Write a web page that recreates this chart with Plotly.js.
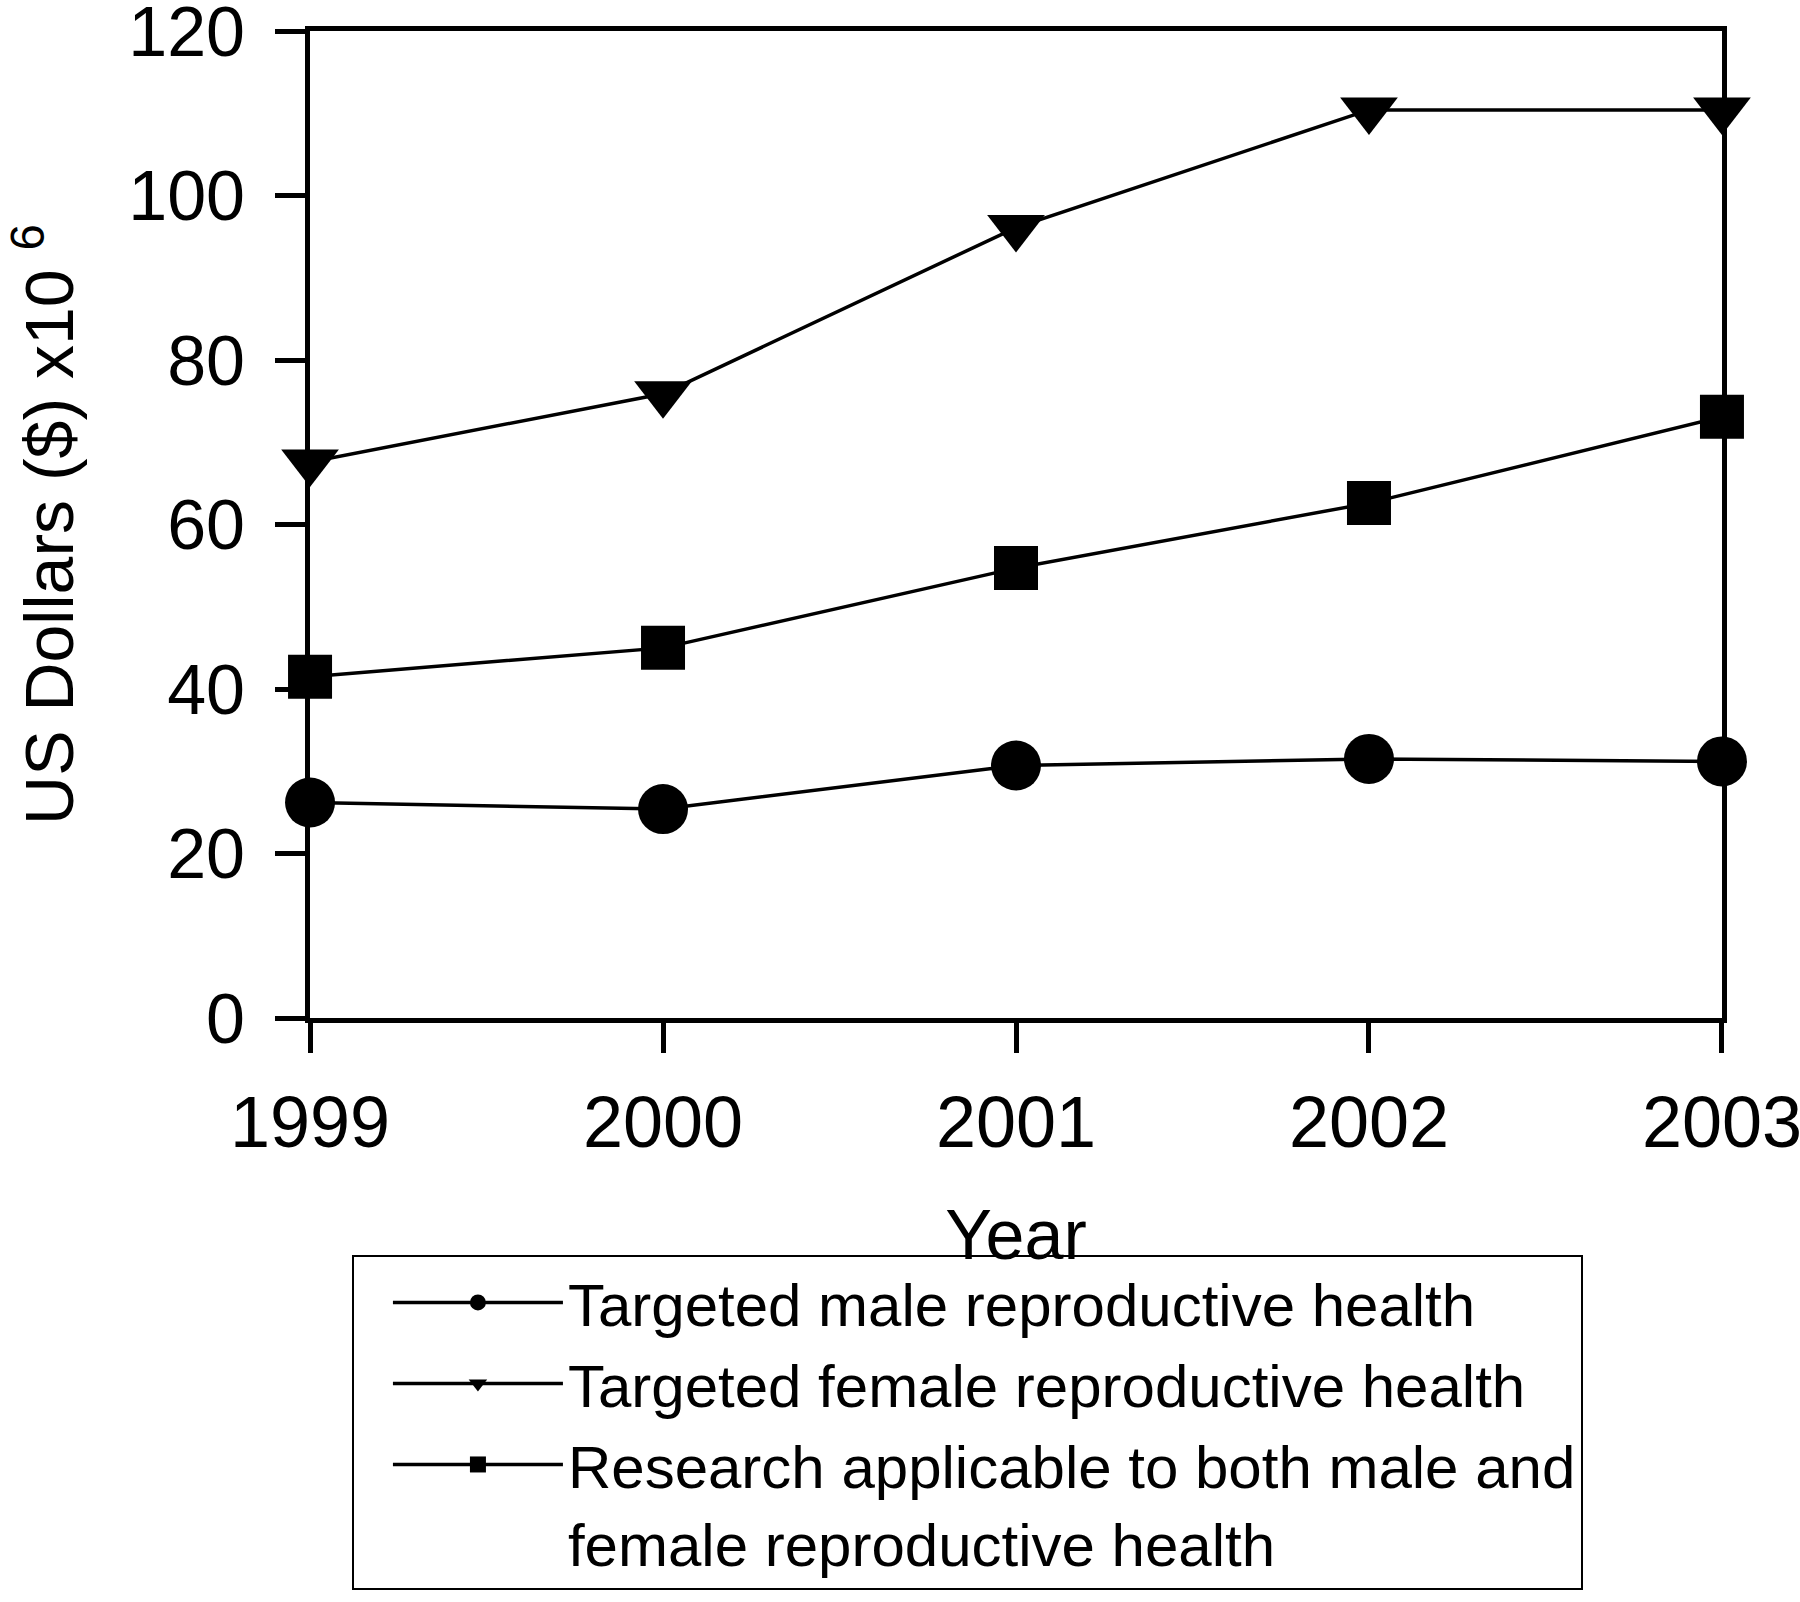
<!DOCTYPE html>
<html>
<head>
<meta charset="utf-8">
<script src="https://cdn.plot.ly/plotly-3.0.1.min.js"></script>
<style>html,body{margin:0;padding:0;background:#fff;}#chart{width:1800px;height:1602px;}</style>
</head>
<body>
<div id="chart"></div>
<script>
const years = [1999, 2000, 2001, 2002, 2003];
const yearLabels = ["1999", "2000", "2001", "2002", "2003"];
const maleValues = [26.2, 25.4, 30.7, 31.5, 31.2];
const femaleValues = [67.6, 75.9, 96.1, 110.4, 110.4];
const bothValues = [41.5, 45.0, 54.7, 62.6, 73.1];
const seriesNames = [
  "Targeted male reproductive health",
  "Targeted female reproductive health",
  "Research applicable to both male and<br>female reproductive health"
];
const yTicks = [0, 20, 40, 60, 80, 100, 120];

const FONT = "Liberation Sans, Arial, Helvetica, sans-serif";

function trace(y, name, symbol, size) {
  return {
    x: years, y: y, name: name, type: "scatter", mode: "lines+markers",
    line: {color: "#000", width: 3.5},
    marker: {symbol: symbol, size: size, color: "#000", line: {width: 0}},
    cliponaxis: false
  };
}

const data = [
  trace(maleValues, seriesNames[0], "circle", 50),
  trace(femaleValues, seriesNames[1], "triangle-down", 50),
  trace(bothValues, seriesNames[2], "square", 44)
];

const layout = {
  width: 1800, height: 1602,
  paper_bgcolor: "#fff", plot_bgcolor: "#fff",
  margin: {l: 310, r: 78, t: 31, b: 581},
  font: {family: FONT, color: "#000"},
  showlegend: true,
  xaxis: {
    range: [1999 - 0.0001, 2003 + 0.0001], tickvals: years, ticktext: yearLabels,
    showgrid: false, zeroline: false,
    showline: true, linecolor: "#000", linewidth: 5, mirror: true,
    ticks: "outside", ticklen: 30, tickwidth: 5, tickcolor: "#000",
    tickfont: {family: FONT, size: 72, color: "#000"},
    ticklabelstandoff: 8, ticklabeloverflow: "allow",
    title: {text: "Year", font: {family: FONT, size: 70, color: "#000"}, standoff: 50}
  },
  yaxis: {
    range: [0 - 0.0001, 120 + 0.0001], tickvals: yTicks,
    showgrid: false, zeroline: false,
    showline: true, linecolor: "#000", linewidth: 5, mirror: true,
    ticks: "outside", ticklen: 30, tickwidth: 5, tickcolor: "#000",
    tickfont: {family: FONT, size: 70, color: "#000"},
    ticklabelstandoff: 16, ticklabeloverflow: "allow",
    title: {text: "US Dollars ($) x10 <sup>6</sup>", font: {family: FONT, size: 68, color: "#000"}, standoff: 34}
  },
  legend: {
    x: 0.0297, y: -0.5795, xanchor: "left", yanchor: "bottom",
    bgcolor: "#fff", bordercolor: "#000", borderwidth: 2,
    font: {family: FONT, size: 60, color: "#000"},
    itemwidth: 170, indentation: 34, valign: "top", tracegroupgap: 0,
    traceorder: "normal"
  }
};

Plotly.newPlot("chart", data, layout, {staticPlot: true, displayModeBar: false});
</script>
</body>
</html>
